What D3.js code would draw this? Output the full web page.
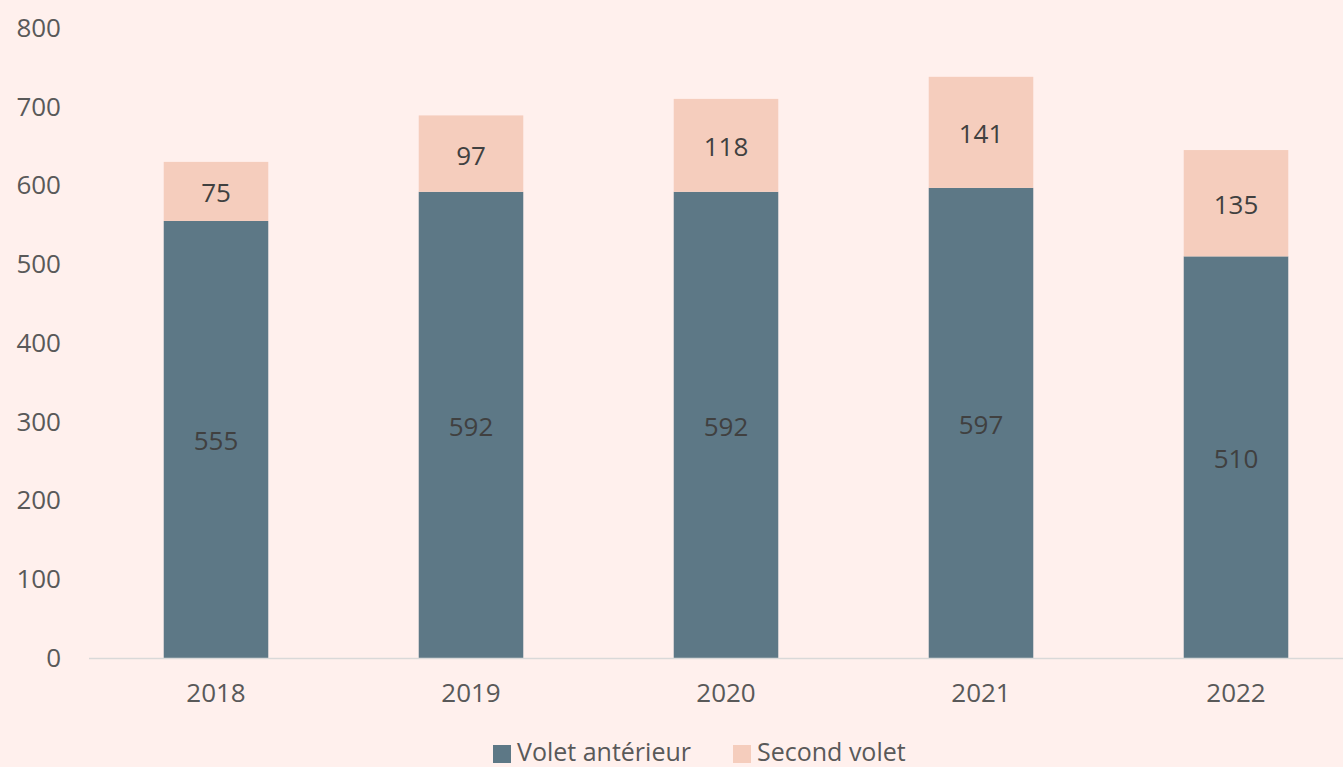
<!DOCTYPE html>
<html>
<head>
<meta charset="utf-8">
<script src="https://cdn.jsdelivr.net/npm/d3@7"></script>
<style>
  html, body { margin: 0; padding: 0; background: #fff0ed; overflow: hidden; }
  svg { display: block; font-family: "Open Sans", "Noto Sans", sans-serif; }
</style>
</head>
<body>
<svg id="chart"></svg>
<script>
// Chart data
const years = ["2018", "2019", "2020", "2021", "2022"];
const voletAnterieur = [555, 592, 592, 597, 510];
const secondVolet = [75, 97, 118, 141, 135];
const seriesNames = ["Volet antérieur", "Second volet"];
const yTicks = [0, 100, 200, 300, 400, 500, 600, 700, 800];

const width = 1343, height = 767;
const colors = ["#5d7886", "#f5cdbd"];
const fontSize = "26px";

const svg = d3.select("#chart")
    .attr("width", width)
    .attr("height", height);

svg.append("rect")
    .attr("width", width)
    .attr("height", height)
    .attr("fill", "#fff0ed");

const x = d3.scaleBand()
    .domain(years)
    .range([88.5, 1363.5])
    .paddingInner(0.59)
    .paddingOuter(0.295);

const y = d3.scaleLinear()
    .domain([0, 800])
    .range([658, 28]);

// stack the two series
const rows = years.map((yr, i) => ({ year: yr, a: voletAnterieur[i], b: secondVolet[i] }));
const stacked = d3.stack().keys(["a", "b"])(rows);

// y axis labels (no line)
const yAxis = svg.append("g")
    .attr("transform", "translate(61,0)")
    .call(d3.axisLeft(y).tickValues(yTicks).tickSize(0).tickPadding(0));
yAxis.select(".domain").remove();
yAxis.selectAll("text")
    .attr("fill", "#595959")
    .style("font-size", fontSize)
    .style("font-family", "'Open Sans', sans-serif");

// bars
stacked.forEach((layer, li) => {
    svg.append("g")
        .selectAll("rect")
        .data(layer)
        .enter().append("rect")
        .attr("x", d => x(d.data.year))
        .attr("y", d => y(d[1]))
        .attr("width", x.bandwidth())
        .attr("height", d => y(d[0]) - y(d[1]))
        .attr("fill", colors[li]);

    svg.append("g")
        .selectAll("text")
        .data(layer)
        .enter().append("text")
        .attr("x", d => x(d.data.year) + x.bandwidth() / 2)
        .attr("y", d => (y(d[0]) + y(d[1])) / 2 + 1)
        .attr("text-anchor", "middle")
        .attr("dominant-baseline", "central")
        .attr("fill", "#404040")
        .style("font-size", fontSize)
        .text(d => d[1] - d[0]);
});

// x axis
const xAxis = svg.append("g")
    .attr("transform", "translate(0,658)")
    .call(d3.axisBottom(x).tickSize(0).tickPadding(26));
xAxis.select(".domain")
    .attr("stroke", "#d9d9d9")
    .attr("stroke-width", 1.5);
xAxis.selectAll("text")
    .attr("fill", "#595959")
    .style("font-size", fontSize)
    .style("font-family", "'Open Sans', sans-serif");

// legend
const legend = svg.append("g").attr("transform", "translate(493,745)");
const legendX = [0, 240];
seriesNames.forEach((name, i) => {
    const g = legend.append("g").attr("transform", `translate(${legendX[i]},0)`);
    g.append("rect")
        .attr("width", 18)
        .attr("height", 18)
        .attr("fill", colors[i]);
    g.append("text")
        .attr("x", 24)
        .attr("y", 6)
        .attr("dominant-baseline", "central")
        .attr("fill", "#595959")
        .style("font-size", "25px")
        .text(name);
});
</script>
</body>
</html>
